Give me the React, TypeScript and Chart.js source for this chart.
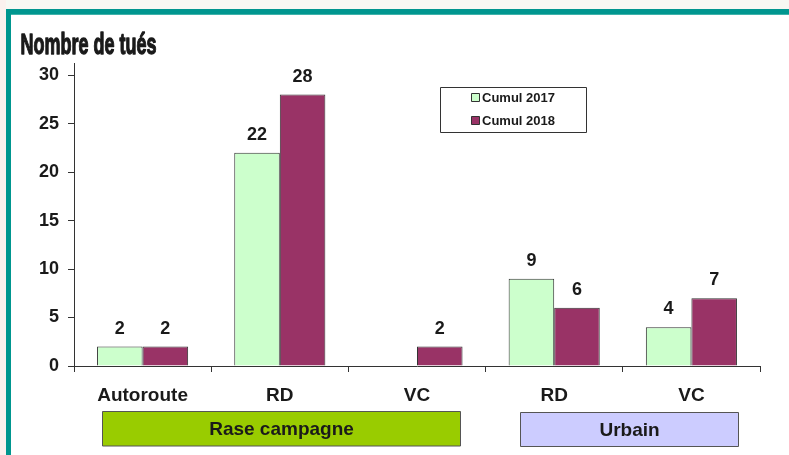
import React, { useEffect, useRef } from "react";
import { Chart, registerables } from "chart.js";

Chart.register(...registerables);

const categories = ["Autoroute", "RD", "VC", "RD", "VC"];
const seriesLabels = ["Cumul 2017", "Cumul 2018"];
const cumul2017: (number | null)[] = [2, 22, null, 9, 4];
const cumul2018: (number | null)[] = [2, 28, 2, 6, 7];
const yTicks = [0, 5, 10, 15, 20, 25, 30];
const titleText = "Nombre de tués";
const groupLabels = ["Rase campagne", "Urbain"];
// category index ranges covered by each group box
const groupRanges = [
  [0, 2],
  [3, 4],
];

const GREEN = "#ccffcc";
const PURPLE = "#993366";
const BORDER = "#333333";
const FONT = "'Liberation Sans', Arial, sans-serif";

const decorPlugin = {
  id: "decor",
  beforeDraw(chart: any) {
    const { ctx, width, height } = chart;
    ctx.save();
    ctx.fillStyle = "#ffffff";
    ctx.fillRect(0, 0, width, height);
    ctx.fillStyle = "#f7f8f3";
    ctx.fillRect(0, 0, width, 9);
    ctx.fillStyle = "#fbf1ee";
    ctx.fillRect(0, 0, 6, height);
    ctx.fillStyle = "#00968f";
    ctx.fillRect(6, 9, width - 6, 6);
    ctx.fillRect(6, 9, 5, height - 9);
    ctx.fillStyle = "#3fb2aa";
    ctx.fillRect(11, 14, width - 11, 1);
    ctx.restore();
  },
  afterDraw(chart: any) {
    const { ctx } = chart;
    const xs = chart.scales.x;
    ctx.save();

    // Title (condensed, heavy)
    ctx.font = "bold 29px 'Liberation Sans Narrow', 'Liberation Sans', sans-serif";
    const tw = ctx.measureText(titleText).width;
    const sx = 136 / tw;
    ctx.translate(20.5, 54);
    ctx.scale(sx, 1);
    ctx.fillStyle = "#1a1a1a";
    ctx.strokeStyle = "#1a1a1a";
    ctx.lineWidth = 1.3;
    ctx.lineJoin = "round";
    ctx.textAlign = "left";
    ctx.textBaseline = "alphabetic";
    ctx.fillText(titleText, 0, 0);
    ctx.strokeText(titleText, 0, 0);
    ctx.setTransform(1, 0, 0, 1, 0, 0);

    // Data labels
    ctx.font = `bold 18px ${FONT}`;
    ctx.fillStyle = "#1a1a1a";
    ctx.textAlign = "center";
    ctx.textBaseline = "alphabetic";
    chart.data.datasets.forEach((ds: any, di: number) => {
      const meta = chart.getDatasetMeta(di);
      meta.data.forEach((bar: any, i: number) => {
        const v = ds.data[i];
        if (v === null || v === undefined) return;
        ctx.fillText(String(v), bar.x, bar.y - 13);
      });
    });

    // Legend box
    const lx = 440.5, ly = 87.5, lw = 146, lh = 45;
    ctx.fillStyle = "#ffffff";
    ctx.fillRect(lx, ly, lw, lh);
    ctx.strokeStyle = BORDER;
    ctx.lineWidth = 1;
    ctx.strokeRect(lx, ly, lw, lh);
    ctx.font = `bold 13px ${FONT}`;
    ctx.textAlign = "left";
    ctx.textBaseline = "middle";
    const colors = [GREEN, PURPLE];
    seriesLabels.forEach((lab, i) => {
      const cy = 98 + i * 23;
      ctx.fillStyle = colors[i];
      ctx.fillRect(471.5, cy - 4.5, 8, 8);
      ctx.strokeStyle = BORDER;
      ctx.strokeRect(471.5, cy - 4.5, 8, 8);
      ctx.fillStyle = "#1a1a1a";
      ctx.fillText(lab, 482, cy + 0.5);
    });

    // Group boxes
    const step = (xs.right - xs.left) / categories.length;
    const boxes = [
      { fill: "#99cc00", top: 411.5, bottom: 446, padL: 28, padR: 26 },
      { fill: "#ccccff", top: 412.5, bottom: 446.5, padL: 34, padR: 22 },
    ];
    ctx.font = `bold 19px ${FONT}`;
    ctx.textAlign = "center";
    ctx.textBaseline = "middle";
    groupRanges.forEach((r, gi) => {
      const b = boxes[gi];
      const x0 = Math.round(xs.left + r[0] * step + b.padL) + 0.5;
      const x1 = Math.round(xs.left + (r[1] + 1) * step - b.padR) + 0.5;
      ctx.fillStyle = b.fill;
      ctx.fillRect(x0, b.top, x1 - x0, b.bottom - b.top);
      ctx.strokeStyle = "#555555";
      ctx.lineWidth = 1;
      ctx.strokeRect(x0, b.top, x1 - x0, b.bottom - b.top);
      ctx.fillStyle = "#1a1a1a";
      ctx.fillText(groupLabels[gi], (x0 + x1) / 2, (b.top + b.bottom) / 2 + 1);
    });

    ctx.restore();
  },
};

export default function App() {
  const ref = useRef<HTMLCanvasElement | null>(null);

  useEffect(() => {
    document.body.style.margin = "0";
    if (!ref.current) return;
    const chart = new Chart(ref.current, {
      type: "bar",
      data: {
        labels: categories,
        datasets: [
          {
            label: seriesLabels[0],
            data: cumul2017,
            backgroundColor: GREEN,
            borderColor: BORDER,
            borderWidth: 1,
          },
          {
            label: seriesLabels[1],
            data: cumul2018,
            backgroundColor: PURPLE,
            borderColor: BORDER,
            borderWidth: 1,
          },
        ],
      },
      options: {
        animation: false,
        responsive: false,
        maintainAspectRatio: false,
        layout: { padding: { top: 63, right: 29, left: 0, bottom: 0 } },
        plugins: {
          legend: { display: false },
          title: { display: false },
          tooltip: { enabled: false },
        },
        datasets: {
          bar: { categoryPercentage: 0.664, barPercentage: 1 },
        },
        scales: {
          x: {
            offset: true,
            grid: {
              offset: true,
              drawOnChartArea: false,
              drawTicks: true,
              tickLength: 6,
              color: "#333333",
            },
            border: { display: true, color: "#333333", width: 1 },
            ticks: {
              color: "#1a1a1a",
              font: { family: FONT, size: 19, weight: "bold" },
              padding: 12,
              maxRotation: 0,
              autoSkip: false,
            },
            afterFit: (s: any) => {
              s.height = 89;
            },
          },
          y: {
            min: 0,
            max: 31.25,
            afterBuildTicks: (s: any) => {
              s.ticks = yTicks.map((v) => ({ value: v }));
            },
            grid: {
              drawOnChartArea: false,
              drawTicks: true,
              tickLength: 6,
              color: "#333333",
            },
            border: { display: true, color: "#333333", width: 1 },
            ticks: {
              color: "#1a1a1a",
              font: { family: FONT, size: 18, weight: "bold" },
              padding: 9,
            },
            afterFit: (s: any) => {
              s.width = 74;
            },
          },
        },
      },
      plugins: [decorPlugin],
    });
    return () => chart.destroy();
  }, []);

  return (
    <div style={{ position: "absolute", left: 0, top: 0, width: 789, height: 455 }}>
      <canvas ref={ref} width={789} height={455} style={{ width: 789, height: 455, display: "block" }} />
    </div>
  );
}
